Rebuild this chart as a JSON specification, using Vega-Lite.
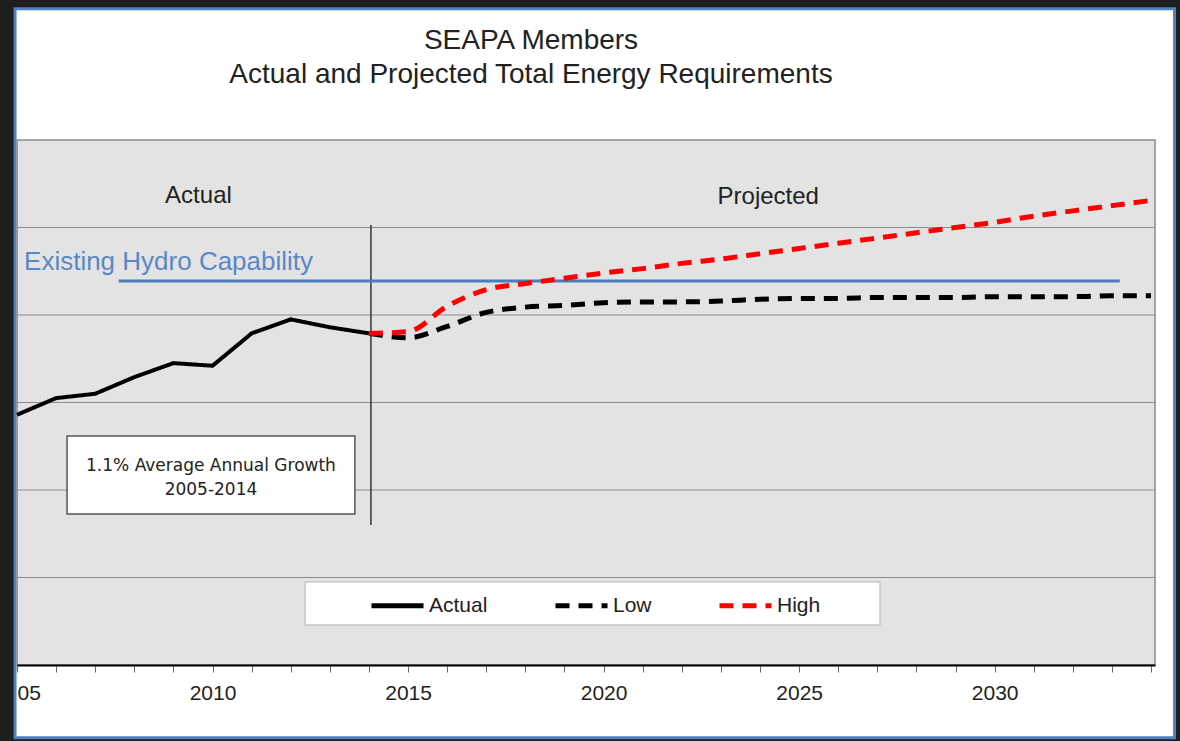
{
  "$schema": "https://vega.github.io/schema/vega-lite/v6.json",
  "width": 1138,
  "height": 525,
  "autosize": {"type": "none"},
  "padding": {"left": 17, "top": 140, "right": 25, "bottom": 76},
  "background": "#1e1e1e",
  "config": {
    "font": "Liberation Sans",
    "view": {"stroke": null}
  },
  "title": {
    "text": ["SEAPA Members", "Actual and Projected Total Energy Requirements"],
    "fontSize": 28,
    "font": "Liberation Sans",
    "fontWeight": "normal",
    "color": "#222222",
    "lineHeight": 34,
    "baseline": "bottom",
    "offset": -110,
    "dx": -55,
    "frame": "group",
    "anchor": "middle"
  },
  "datasets": {
    "panel": [{"year": 2004.95, "year2": 2034.6, "value": -0.83, "value2": 7.5}],
    "plotbg": [{"year": 2005, "year2": 2034.1, "value": 0, "value2": 6}],
    "grid": [
      {"year": 2005, "year2": 2034.1, "value": 1},
      {"year": 2005, "year2": 2034.1, "value": 2},
      {"year": 2005, "year2": 2034.1, "value": 3},
      {"year": 2005, "year2": 2034.1, "value": 4},
      {"year": 2005, "year2": 2034.1, "value": 5}
    ],
    "divider": [{"year": 2014.05, "value": 1.6, "value2": 5.03}],
    "hydro": [{"year": 2007.6, "year2": 2033.2, "value": 4.39}],
    "legendbox": [{"year": 2012.37, "year2": 2027.07, "value": 0.457, "value2": 0.949}],
    "notebox": [{"year": 2006.28, "year2": 2013.64, "value": 1.726, "value2": 2.617}],
    "actual": [
      {"year": 2005, "value": 2.86, "series": "Actual"},
      {"year": 2006, "value": 3.05, "series": "Actual"},
      {"year": 2007, "value": 3.10, "series": "Actual"},
      {"year": 2008, "value": 3.29, "series": "Actual"},
      {"year": 2009, "value": 3.45, "series": "Actual"},
      {"year": 2010, "value": 3.42, "series": "Actual"},
      {"year": 2011, "value": 3.79, "series": "Actual"},
      {"year": 2012, "value": 3.95, "series": "Actual"},
      {"year": 2013, "value": 3.86, "series": "Actual"},
      {"year": 2014, "value": 3.79, "series": "Actual"}
    ],
    "proj": [
      {"year": 2014, "value": 3.79, "series": "Low"},
      {"year": 2015, "value": 3.74, "series": "Low"},
      {"year": 2016, "value": 3.87, "series": "Low"},
      {"year": 2017, "value": 4.03, "series": "Low"},
      {"year": 2018, "value": 4.09, "series": "Low"},
      {"year": 2019, "value": 4.11, "series": "Low"},
      {"year": 2020, "value": 4.14, "series": "Low"},
      {"year": 2021, "value": 4.15, "series": "Low"},
      {"year": 2022, "value": 4.15, "series": "Low"},
      {"year": 2023, "value": 4.16, "series": "Low"},
      {"year": 2024, "value": 4.18, "series": "Low"},
      {"year": 2025, "value": 4.19, "series": "Low"},
      {"year": 2026, "value": 4.19, "series": "Low"},
      {"year": 2027, "value": 4.20, "series": "Low"},
      {"year": 2028, "value": 4.20, "series": "Low"},
      {"year": 2029, "value": 4.20, "series": "Low"},
      {"year": 2030, "value": 4.21, "series": "Low"},
      {"year": 2031, "value": 4.21, "series": "Low"},
      {"year": 2032, "value": 4.21, "series": "Low"},
      {"year": 2033, "value": 4.22, "series": "Low"},
      {"year": 2034, "value": 4.22, "series": "Low"},
      {"year": 2014, "value": 3.79, "series": "High"},
      {"year": 2015, "value": 3.81, "series": "High"},
      {"year": 2016, "value": 4.10, "series": "High"},
      {"year": 2017, "value": 4.29, "series": "High"},
      {"year": 2018, "value": 4.36, "series": "High"},
      {"year": 2019, "value": 4.42, "series": "High"},
      {"year": 2020, "value": 4.48, "series": "High"},
      {"year": 2021, "value": 4.53, "series": "High"},
      {"year": 2022, "value": 4.59, "series": "High"},
      {"year": 2023, "value": 4.64, "series": "High"},
      {"year": 2024, "value": 4.70, "series": "High"},
      {"year": 2025, "value": 4.76, "series": "High"},
      {"year": 2026, "value": 4.82, "series": "High"},
      {"year": 2027, "value": 4.88, "series": "High"},
      {"year": 2028, "value": 4.94, "series": "High"},
      {"year": 2029, "value": 5.00, "series": "High"},
      {"year": 2030, "value": 5.06, "series": "High"},
      {"year": 2031, "value": 5.13, "series": "High"},
      {"year": 2032, "value": 5.19, "series": "High"},
      {"year": 2033, "value": 5.25, "series": "High"},
      {"year": 2034, "value": 5.31, "series": "High"}
    ],
    "headers": [
      {"year": 2009.64, "value": 5.28, "label": "Actual"},
      {"year": 2024.21, "value": 5.27, "label": "Projected"}
    ],
    "hydrolabel": [{"year": 2005.18, "value": 4.52, "label": "Existing Hydro Capability"}],
    "note": [
      {"year": 2009.96, "value": 2.22, "label": "1.1% Average Annual Growth"},
      {"year": 2009.96, "value": 1.945, "label": "2005-2014"}
    ]
  },
  "encoding": {
    "x": {
      "field": "year",
      "type": "quantitative",
      "scale": {"domain": [2005, 2034.1], "nice": false, "zero": false},
      "axis": {
        "values": [2005, 2006, 2007, 2008, 2009, 2010, 2011, 2012, 2013, 2014, 2015, 2016, 2017, 2018, 2019, 2020, 2021, 2022, 2023, 2024, 2025, 2026, 2027, 2028, 2029, 2030, 2031, 2032, 2033, 2034],
        "format": "d",
        "labelExpr": "datum.value == 2005 ? '05' : (datum.value % 5 == 0 ? datum.label : '')",
        "title": null,
        "grid": false,
        "domainColor": "#000000",
        "domainWidth": 2,
        "tickColor": "#666666",
        "tickSize": 7,
        "tickWidth": 1,
        "labelFontSize": 21,
        "labelFont": "Liberation Sans",
        "labelColor": "#222222",
        "labelPadding": 10,
        "labelFlush": true,
        "labelOverlap": false,
        "zindex": 1
      }
    },
    "y": {
      "field": "value",
      "type": "quantitative",
      "scale": {"domain": [0, 6], "nice": false, "zero": false},
      "axis": null
    }
  },
  "layer": [
    {
      "data": {"name": "panel"},
      "mark": {"type": "rect", "fill": "#ffffff", "stroke": "#4f81bd", "strokeWidth": 3},
      "encoding": {"x2": {"field": "year2"}, "y2": {"field": "value2"}}
    },
    {
      "data": {"name": "plotbg"},
      "mark": {"type": "rect", "fill": "#e3e3e3", "stroke": "#8a8a8a", "strokeWidth": 1.5},
      "encoding": {"x2": {"field": "year2"}, "y2": {"field": "value2"}}
    },
    {
      "data": {"name": "grid"},
      "mark": {"type": "rule", "color": "#8c8c8c", "strokeWidth": 1},
      "encoding": {"x2": {"field": "year2"}}
    },
    {
      "data": {"name": "divider"},
      "mark": {"type": "rule", "color": "#333333", "strokeWidth": 1.5},
      "encoding": {"y2": {"field": "value2"}}
    },
    {
      "data": {"name": "hydro"},
      "mark": {"type": "rule", "color": "#4a7dba", "strokeWidth": 3},
      "encoding": {"x2": {"field": "year2"}}
    },
    {
      "data": {"name": "legendbox"},
      "mark": {"type": "rect", "fill": "#ffffff", "stroke": "#c8c8c8", "strokeWidth": 1.5},
      "encoding": {"x2": {"field": "year2"}, "y2": {"field": "value2"}}
    },
    {
      "data": {"name": "notebox"},
      "mark": {"type": "rect", "fill": "#ffffff", "stroke": "#555555", "strokeWidth": 1.5},
      "encoding": {"x2": {"field": "year2"}, "y2": {"field": "value2"}}
    },
    {
      "data": {"name": "actual"},
      "mark": {"type": "line", "strokeWidth": 4},
      "encoding": {
        "color": {
          "field": "series",
          "type": "nominal",
          "scale": {"domain": ["Actual", "Low", "High"], "range": ["#000000", "#000000", "#ff0000"]},
          "legend": {
            "title": null, "orient": "none", "legendX": 352, "legendY": 437,
            "direction": "horizontal", "symbolType": "stroke", "symbolSize": 2704,
            "symbolStrokeWidth": 5, "labelFontSize": 21, "labelFont": "Liberation Sans",
            "labelColor": "#222222", "labelOffset": 3, "columnPadding": 57, "padding": 0
          }
        },
        "strokeDash": {
          "field": "series",
          "type": "nominal",
          "scale": {"domain": ["Actual", "Low", "High"], "range": [[1, 0], [14, 9], [14, 9]]},
          "legend": {
            "title": null, "orient": "none", "legendX": 352, "legendY": 437,
            "direction": "horizontal", "symbolType": "stroke", "symbolSize": 2704,
            "symbolStrokeWidth": 5, "labelFontSize": 21, "labelFont": "Liberation Sans",
            "labelColor": "#222222", "labelOffset": 3, "columnPadding": 57, "padding": 0
          }
        }
      }
    },
    {
      "data": {"name": "proj"},
      "mark": {"type": "line", "strokeWidth": 5, "interpolate": "monotone"},
      "encoding": {
        "color": {"field": "series", "type": "nominal"},
        "strokeDash": {"field": "series", "type": "nominal"}
      }
    },
    {
      "data": {"name": "headers"},
      "mark": {"type": "text", "fontSize": 24, "font": "Liberation Sans", "color": "#222222", "align": "center", "baseline": "alphabetic"},
      "encoding": {"text": {"field": "label"}}
    },
    {
      "data": {"name": "hydrolabel"},
      "mark": {"type": "text", "fontSize": 26, "font": "Liberation Sans", "color": "#5a88c6", "align": "left", "baseline": "alphabetic"},
      "encoding": {"text": {"field": "label"}}
    },
    {
      "data": {"name": "note"},
      "mark": {"type": "text", "fontSize": 17, "font": "DejaVu Sans", "color": "#222222", "align": "center", "baseline": "alphabetic"},
      "encoding": {"text": {"field": "label"}}
    }
  ]
}
